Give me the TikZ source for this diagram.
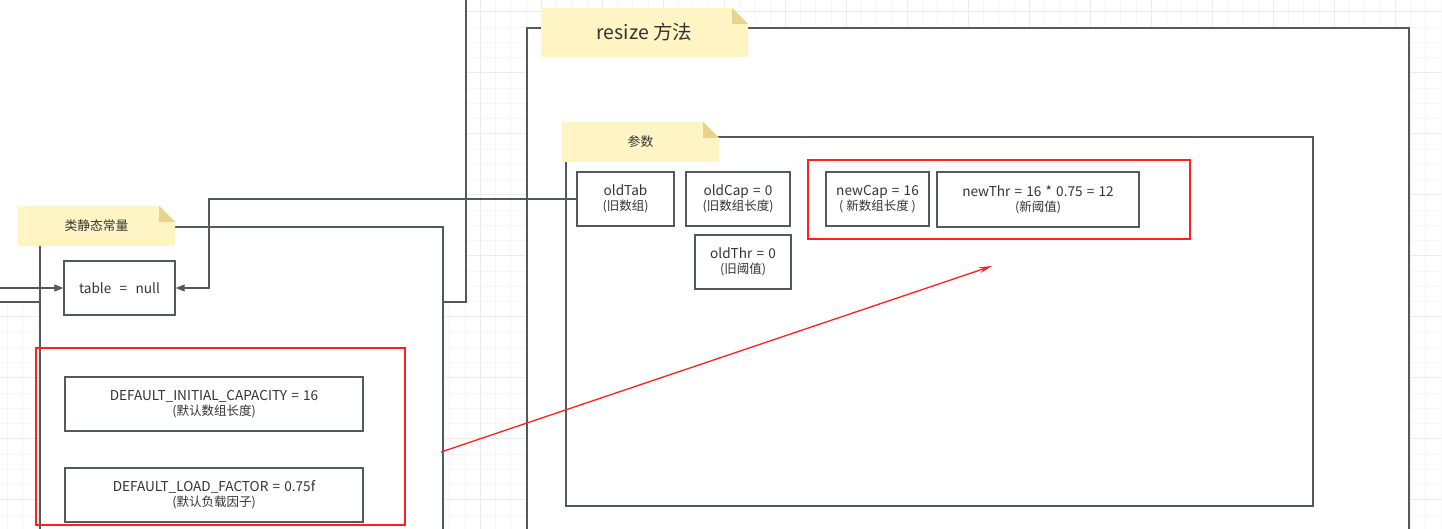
\documentclass[tikz,border=0pt]{standalone}
\usepackage{fontspec}
\setmainfont{Noto Sans CJK SC}
\usetikzlibrary{arrows.meta}
\definecolor{edge}{RGB}{84,89,95}
\definecolor{ink}{RGB}{51,51,51}
\definecolor{notefill}{RGB}{255,244,195}
\definecolor{notefold}{RGB}{232,211,142}
\definecolor{hilite}{RGB}{255,32,32}
\definecolor{gridminor}{RGB}{246,246,246}
\definecolor{gridmajor}{RGB}{236,236,236}
\newcommand{\Lat}{\fontsize{13.6}{15}\selectfont\spaceskip=4.2pt plus 1pt}
\tikzset{
  field/.style={
    draw=edge,
    line width=1.3pt,
    fill=white,
    inner sep=0pt,
    font=\fontsize{12.5}{15}\selectfont,
    text=ink,
    align=center
  },
  panel/.style={draw=edge, line width=1.3pt, fill=white},
  redframe/.style={draw=hilite, line width=1.3pt},
  conn/.style={draw=edge, line width=1.2pt, -{Triangle[length=9pt,width=7pt]}},
  redarrow/.style={draw=hilite, line width=1.3pt, -{Stealth[length=13pt,width=6pt]}},
  notetxt/.style={text=ink, inner sep=0pt},
}
\newcommand{\StickyNote}[7]{%
  \fill[notefill] (#2,#3) -- ({#4-16},#3) -- (#4,{#3+16}) -- (#4,#5) -- (#2,#5) -- cycle;
  \fill[notefold] ({#4-16},#3) -- ({#4-16},{#3+16}) -- (#4,{#3+16}) -- cycle;
  \node[notetxt, font=\fontsize{#6}{#6}\selectfont] (#1) at ({(#2+#4)/2},{(#3+#5)/2}) {#7};
}

\begin{document}
\begin{tikzpicture}[x=1pt,y=-1pt]
  \useasboundingbox (0,0) rectangle (1442,529);
  \clip (0,0) rectangle (1442,529);
  % background grid
  \foreach \i in {0,...,95} {
    \draw[gridminor, line width=0.8pt] ({7.55+\i*15.25},0) -- ++(0,529);
    \draw[gridminor, line width=0.8pt] (0,{-3.55+\i*15.25}) -- ++(1442,0);
  }
  \foreach \i in {0,...,24} {
    \draw[gridmajor, line width=1pt] ({-7.7+\i*61},0) -- ++(0,529);
    \draw[gridmajor, line width=1pt] (0,{11.7+\i*61}) -- ++(1442,0);
  }

  % containers
  \draw[panel] (-20,-20) rectangle (466,302);
  \draw[panel] (40,227) rectangle (443,560);
  \draw[panel] (527,28) rectangle (1409,560);
  \draw[panel] (566,137) rectangle (1313,506);

  % notes
  \StickyNote{staticnote}{18}{206}{175}{246}{12.8}{类静态常量}
  \StickyNote{resizenote}{541}{8}{748}{57}{19.5}{resize 方法}
  \StickyNote{paramnote}{562}{122}{719}{162}{12.8}{参数}

  % static fields
  \node[field, minimum width=111pt, minimum height=54pt] (tbl) at (119.5,288) {\Lat table~~=~~null};
  \node[field, minimum width=298pt, minimum height=54pt] (initcap) at (214,404) {{\Lat DEFAULT\_INITIAL\_CAPACITY = 16}\\(默认数组长度)};
  \node[field, minimum width=298pt, minimum height=54pt] (loadfac) at (214,495) {{\Lat DEFAULT\_LOAD\_FACTOR = 0.75f}\\(默认负载因子)};

  % resize parameters
  \node[field, minimum width=97pt, minimum height=54pt] (oldtab) at (625.5,199) {{\Lat oldTab}\\(旧数组)};
  \node[field, minimum width=104pt, minimum height=54pt] (oldcap) at (738,199) {{\Lat oldCap = 0}\\(旧数组长度)};
  \node[field, minimum width=96pt, minimum height=54pt] (oldthr) at (743,262) {{\Lat oldThr = 0}\\(旧阈值)};
  \node[field, minimum width=103pt, minimum height=54pt] (newcap) at (877.5,199) {{\Lat newCap = 16}\\(~新数组长度~)};
  \node[field, minimum width=202pt, minimum height=55pt] (newthr) at (1038,199.5) {{\Lat newThr = 16 * 0.75 = 12}\\(新阈值)};

  % highlights
  \draw[redframe] (36,348) rectangle (405,525);
  \draw[redframe] (808,160) rectangle (1190,239);

  % connectors
  \coordinate (inleft) at (0,288);
  \coordinate (bend) at (209,199);
  \coordinate (redstart) at (441,452);
  \coordinate (redend) at (992,266);
  \draw[conn] (inleft) -- (tbl.west);
  \draw[conn] (oldtab.west) -- (bend) |- (tbl.east);
  \draw[redarrow] (redstart) -- (redend);
\end{tikzpicture}
\end{document}
